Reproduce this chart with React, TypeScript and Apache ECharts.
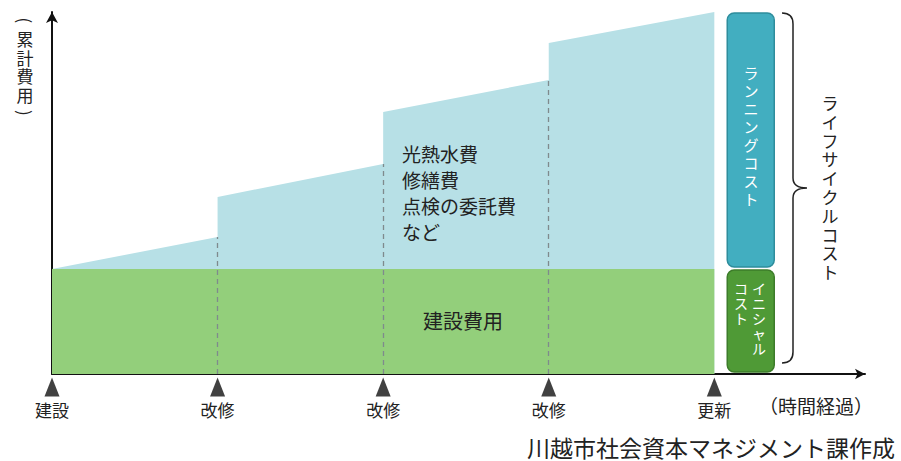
import React, { useEffect, useRef } from "react";
import * as echarts from "echarts";

// ---- data ----
const EVENT_YEARS = [0, 10, 20, 30, 40];
const EVENT_LABELS = ["建設", "改修", "改修", "改修", "更新"];
const INITIAL_COST = 105;
const RUNNING_START = [105, 177, 262, 331];
const RUNNING_END = [137, 210, 294, 362];
const LCC_BAR_X = 42.2;
const INNER_TEXT = ["光熱水費", "修繕費", "点検の委託費", "など"];

const FONT = '"Noto Sans CJK JP", "Noto Sans", sans-serif';

// vertical text: one element per character
function vText(
  s: string,
  x: number,
  yTop: number,
  step: number,
  fontSize: number,
  fill: string
) {
  return s.split("").map((ch, i) => {
    const rot = ch === "(" || ch === ")";
    return {
      type: "text",
      x,
      y: yTop + step * i + step / 2,
      z: 10,
      rotation: rot ? -Math.PI / 2 : 0,
      style: {
        text: ch,
        fontFamily: FONT,
        fontSize,
        fill,
        align: "center",
        verticalAlign: "middle",
      },
    };
  });
}

let braceRegistered = false;

export default function App() {
  const ref = useRef<HTMLDivElement>(null);
  useEffect(() => {
    document.body.style.margin = "0";
    if (!ref.current) return;
    if (!braceRegistered) {
      const Brace = echarts.graphic.extendPath(
        "M782,13 Q793,13 793,24 L793,178 Q793,188 807,188 Q793,188 793,198 L793,352 Q793,363 782,363",
        {}
      );
      echarts.graphic.registerShape("brace", Brace);
      braceRegistered = true;
    }
    const chart = echarts.init(ref.current, null, { renderer: "svg" });

    const runningData: number[][] = [];
    for (let i = 0; i < RUNNING_START.length; i++) {
      runningData.push([EVENT_YEARS[i], RUNNING_START[i]]);
      runningData.push([EVENT_YEARS[i + 1], RUNNING_END[i]]);
    }
    const initialData = [
      [EVENT_YEARS[0], INITIAL_COST],
      [EVENT_YEARS[EVENT_YEARS.length - 1], INITIAL_COST],
    ];
    const dashed = [1, 2, 3].map((i) => [
      { coord: [EVENT_YEARS[i], 0] },
      { coord: [EVENT_YEARS[i], RUNNING_END[i - 1]] },
    ]);
    const totalCost = RUNNING_END[RUNNING_END.length - 1];

    const option: any = {
      animation: false,
      textStyle: { fontFamily: FONT },
      grid: { left: 52, right: 36, top: 12, bottom: 87 },
      xAxis: {
        type: "value",
        min: 0,
        max: 49.1,
        interval: 10,
        splitLine: { show: false },
        axisTick: { show: false },
        axisLine: {
          lineStyle: { color: "#111", width: 2 },
          symbol: ["none", "arrow"],
          symbolSize: [8, 10],
        },
        axisLabel: {
          showMaxLabel: false,
          margin: 27,
          fontSize: 17,
          color: "#222",
          fontFamily: FONT,
          formatter: (v: number) => {
            const i = EVENT_YEARS.indexOf(v);
            return i >= 0 ? EVENT_LABELS[i] : "";
          },
        },
      },
      yAxis: {
        type: "value",
        min: 0,
        max: totalCost,
        splitLine: { show: false },
        axisTick: { show: false },
        axisLabel: { show: false },
        axisLine: {
          show: true,
          lineStyle: { color: "#111", width: 2 },
          symbol: ["none", "arrow"],
          symbolSize: [9, 11],
        },
      },
      series: [
        {
          type: "line",
          data: runningData,
          symbol: "none",
          lineStyle: { width: 0, opacity: 0 },
          areaStyle: { color: "#B7E0E6", opacity: 1, origin: "start" },
          z: 1,
        },
        {
          type: "line",
          data: initialData,
          symbol: "none",
          lineStyle: { width: 0, opacity: 0 },
          areaStyle: { color: "#93CF7B", opacity: 1, origin: "start" },
          z: 2,
          markLine: {
            silent: true,
            symbol: ["none", "none"],
            label: { show: false },
            lineStyle: { color: "#7f8a8d", width: 1.3, type: [5, 4] },
            data: dashed,
          },
        },
        {
          type: "scatter",
          data: EVENT_YEARS.map((x) => [x, -13]),
          symbol: "triangle",
          symbolSize: [15, 19],
          itemStyle: { color: "#111" },
          clip: false,
          z: 5,
        },
        {
          type: "custom",
          data: [
            [LCC_BAR_X, 0, INITIAL_COST, 0],
            [LCC_BAR_X, INITIAL_COST, totalCost, 1],
          ],
          encode: { x: 0, y: [1, 2] },
          clip: false,
          z: 4,
          renderItem: (params: any, api: any) => {
            const x = api.value(0);
            const lo = api.value(1);
            const hi = api.value(2);
            const k = api.value(3);
            const p0 = api.coord([x, lo]);
            const p1 = api.coord([x, hi]);
            const w = 47;
            return {
              type: "rect",
              shape: {
                x: p0[0] - w / 2,
                y: p1[1] + 1,
                width: w,
                height: p0[1] - p1[1] - 3,
                r: 7,
              },
              style: {
                fill: k ? "#42AEC0" : "#4F9A36",
                stroke: k ? "#2E8D9C" : "#3D7C2A",
                lineWidth: 1.5,
              },
            };
          },
        },
      ],
      graphic: [
        ...vText("(累計費用)", 25, 11, 18.5, 17, "#222"),
        {
          type: "text",
          x: 402,
          y: 140,
          z: 10,
          style: {
            text: INNER_TEXT.join("\n"),
            fontFamily: FONT,
            fontSize: 19,
            lineHeight: 26,
            fill: "#222",
            align: "left",
            verticalAlign: "top",
          },
        },
        {
          type: "text",
          x: 463,
          y: 320,
          z: 10,
          style: {
            text: "建設費用",
            fontFamily: FONT,
            fontSize: 20,
            fill: "#222",
            align: "center",
            verticalAlign: "middle",
          },
        },
        ...vText("ランニングコスト", 751, 63, 18, 15, "#fff"),
        ...vText("イニシャル", 759, 280, 15, 14, "#fff"),
        ...vText("コスト", 741, 280, 15, 14, "#fff"),
        {
          type: "brace",
          x: 0,
          y: 0,
          style: { fill: "none", stroke: "#222", lineWidth: 1.5 },
        },
        ...vText("ライフサイクルコスト", 830, 93, 18.8, 17, "#222"),
        {
          type: "text",
          x: 816,
          y: 405,
          style: {
            text: "（時間経過）",
            fontFamily: FONT,
            fontSize: 19,
            fill: "#222",
            align: "center",
            verticalAlign: "middle",
          },
        },
        {
          type: "text",
          x: 895,
          y: 447,
          style: {
            text: "川越市社会資本マネジメント課作成",
            fontFamily: FONT,
            fontSize: 23,
            fill: "#222",
            align: "right",
            verticalAlign: "middle",
          },
        },
      ],
    };
    chart.setOption(option);
    return () => chart.dispose();
  }, []);
  return <div ref={ref} style={{ width: 901, height: 461 }} />;
}
